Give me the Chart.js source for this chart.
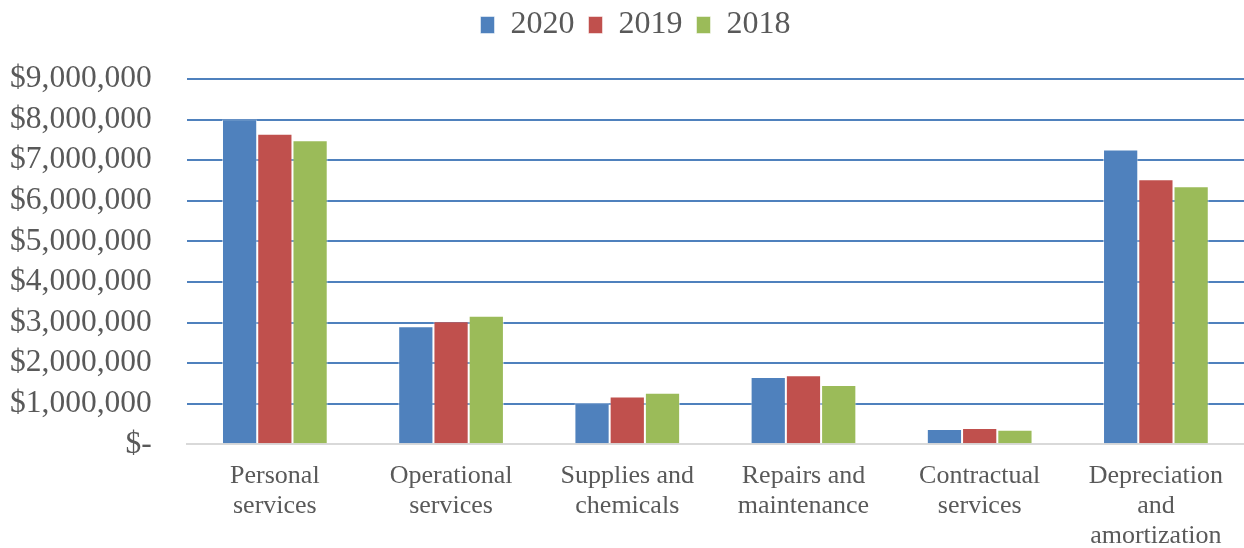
<!DOCTYPE html>
<html>
<head>
<meta charset="utf-8">
<script src="https://cdn.jsdelivr.net/npm/chart.js@4.4.1/dist/chart.umd.min.js"></script>
<style>
  html, body { margin: 0; padding: 0; background: #fff; }
  #wrap { width: 1244px; height: 548px; }
</style>
</head>
<body>
<div id="wrap"><canvas id="grafico"></canvas></div>
<script>
const categorias = [
    ['Personal', 'services'],
    ['Operational', 'services'],
    ['Supplies and', 'chemicals'],
    ['Repairs and', 'maintenance'],
    ['Contractual', 'services'],
    ['Depreciation', 'and', 'amortization']
];
const anios = ['2020', '2019', '2018'];
const valores2020 = [8000000, 2910000, 1010000, 1660000, 380000, 7260000];
const valores2019 = [7650000, 3030000, 1180000, 1700000, 400000, 6530000];
const valores2018 = [7490000, 3170000, 1270000, 1460000, 360000, 6360000];
const colores = ['#4F81BD', '#C0504D', '#9BBB59'];
const ticksY = [0, 1000000, 2000000, 3000000, 4000000, 5000000, 6000000, 7000000, 8000000, 9000000];

const series = [valores2020, valores2019, valores2018];
const fuente = '"Liberation Serif", "Times New Roman", serif';

function formatoDinero(v) {
    if (v == 0) return '$-';
    return '$' + v.toLocaleString('en-US');
}

// espacio extra debajo de la leyenda y leyenda un poco a la derecha
const espacioLeyenda = {
    id: 'espacioLeyenda',
    beforeLayout(chart) {
        const ley = chart.legend;
        if (ley && !ley._parcheado) {
            const fitOrig = ley.fit;
            ley.fit = function () {
                fitOrig.call(this);
                this.height += 28;
            };
            ley._parcheado = true;
        }
    },
    afterLayout(chart) {
        const ley = chart.legend;
        if (ley) {
            ley.left += 26;
            ley.right += 26;
        }
    }
};

const data = {
    labels: categorias,
    datasets: series.map((s, i) => ({
        label: anios[i],
        data: s,
        backgroundColor: colores[i],
        borderColor: 'rgba(255,255,255,0.5)',
        borderWidth: 1,
        categoryPercentage: 0.6,
        barPercentage: 1.0
    }))
};

const config = {
    type: 'bar',
    data: data,
    plugins: [espacioLeyenda],
    options: {
        responsive: true,
        maintainAspectRatio: false,
        animation: false,
        layout: { padding: { left: -25, right: 0, top: -5, bottom: -20 } },
        plugins: {
            tooltip: { enabled: false },
            legend: {
                position: 'top',
                labels: {
                    color: '#595959',
                    font: { family: fuente, size: 32 },
                    boxWidth: 14,
                    boxHeight: 17,
                    padding: 14
                }
            }
        },
        scales: {
            x: {
                grid: { display: false, drawTicks: false },
                border: { color: '#D9D9D9', width: 2 },
                ticks: {
                    color: '#595959',
                    font: { family: fuente, size: 26, lineHeight: 1.15 },
                    maxRotation: 0,
                    autoSkip: false,
                    padding: 17
                }
            },
            y: {
                min: 0,
                max: 9000000,
                afterBuildTicks: (axis) => { axis.ticks = ticksY.map(v => ({ value: v })); },
                grid: {
                    color: (ctx) => ctx.tick && ctx.tick.value == 0 ? '#D9D9D9' : '#4F81BD',
                    lineWidth: 2,
                    drawTicks: false
                },
                border: { display: false },
                ticks: {
                    color: '#595959',
                    font: { family: fuente, size: 31.5 },
                    padding: 35,
                    autoSkip: false,
                    callback: (v) => formatoDinero(v)
                }
            }
        }
    }
};

new Chart(document.getElementById('grafico'), config);
</script>
</body>
</html>
